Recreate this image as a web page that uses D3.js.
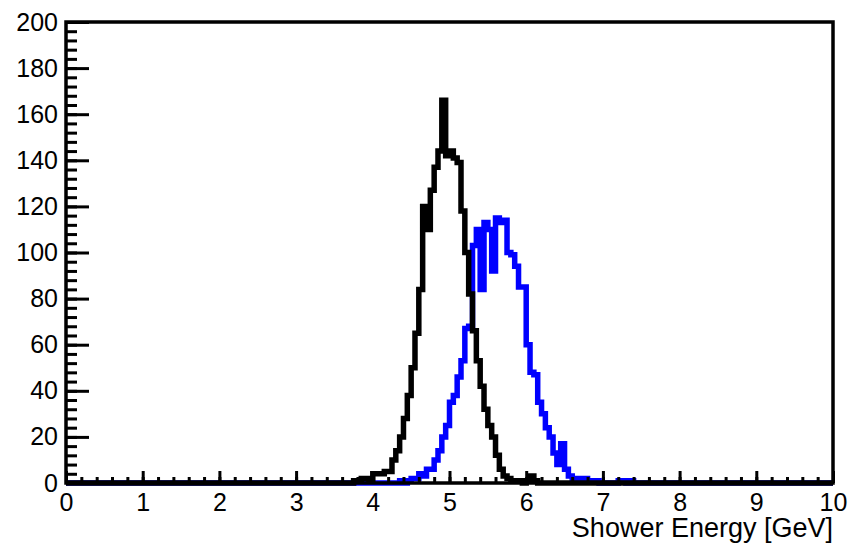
<!DOCTYPE html>
<meta charset="utf-8">
<style>
body{ margin:0; background:#fff; }
text { font-family: "Liberation Sans", Arial, Helvetica, sans-serif; fill:#000; }
</style>
<body>
<script src="https://cdn.jsdelivr.net/npm/d3@7"></script>
<script>

// histogram binning: 200 bins of 0.05 GeV between 0 and 10
var xMin = 0, xMax = 10, binWidth = 0.05;

// black histogram, first non-empty bin starts at 3.75 GeV
var blackStart = 3.75;
var blackCounts = [1,1,2,2,1, 4,4,4,5,5, 10,14,20,28,38, 50,65,84,120,110,
                   127,137,144,166,142, 144,141,139,118,100, 82,66,53,42,32,
                   25,20,12,6,3, 2,1,1,1,0, 1,3,1];

// blue histogram, first non-empty bin starts at 4.35 GeV
var blueStart = 4.35;
var blueCounts = [1,0,1,2,2, 4,3,6,6,10, 14,20,25,35,38, 46,53,67,68,103,
                  110,84,113,110,92, 115,113,114,100,99, 94,85,85,60,48,
                  47,35,30,24,20, 13,8,17,6,3, 2,2,1,2,1,
                  1,1,0,0,0, 0,0,1,1,0, 1];

var xTicks = [0,1,2,3,4,5,6,7,8,9,10];
var yTicks = [0,20,40,60,80,100,120,140,160,180,200];

var width = 851, height = 546;
var padL = 66, padR = 833, padT = 22, padB = 483;

var x = d3.scaleLinear().domain([xMin, xMax]).range([padL, padR]);
var y = d3.scaleLinear().domain([0, 200]).range([padB, padT]);

var svg = d3.select("body").append("svg")
    .attr("width", width)
    .attr("height", height);

// turn a list of counts into the step outline of a histogram
function outline(start, counts) {
  var nBins = Math.round((xMax - xMin) / binWidth);
  var first = Math.round((start - xMin) / binWidth);
  var pts = [];
  for (var i = 0; i < nBins; i++) {
    var k = i - first;
    var v = (k >= 0 && k < counts.length) ? counts[k] : 0;
    var lo = xMin + i * binWidth, hi = lo + binWidth;
    pts.push([lo, v], [hi, v]);
  }
  return pts;
}

var line = d3.line()
    .x(function(d) { return x(d[0]); })
    .y(function(d) { return y(d[1]); });

svg.append("path")
    .attr("d", line(outline(blueStart, blueCounts)))
    .attr("fill", "none")
    .attr("stroke", "#0000ff")
    .attr("stroke-width", 5.5)
    .attr("stroke-linejoin", "miter");

svg.append("path")
    .attr("d", line(outline(blackStart, blackCounts)))
    .attr("fill", "none")
    .attr("stroke", "#000")
    .attr("stroke-width", 5.5)
    .attr("stroke-linejoin", "miter");

// frame
svg.append("rect")
    .attr("x", padL).attr("y", padT)
    .attr("width", padR - padL).attr("height", padB - padT)
    .attr("fill", "none")
    .attr("stroke", "#000")
    .attr("stroke-width", 3.5);

// y axis: major ticks with labels, minor ticks every 4
var yMinor = d3.range(0, 201, 4);
svg.append("g")
    .attr("transform", "translate(" + padL + ",0)")
    .call(d3.axisLeft(y).tickValues(yMinor).tickSize(-11).tickFormat(""))
    .call(function(g) { g.select(".domain").remove(); g.selectAll("line").attr("stroke-width", 3); });
svg.append("g")
    .attr("transform", "translate(" + padL + ",0)")
    .call(d3.axisLeft(y).tickValues(yTicks).tickSize(-23).tickPadding(8).tickFormat(d3.format("d")))
    .call(function(g) {
      g.select(".domain").remove();
      g.selectAll("line").attr("stroke-width", 3);
      g.selectAll("text").style("font-size", "25px").attr("fill", "#000");
    });

// x axis: major ticks every 1, minor every 0.2
var xMinor = d3.range(0, 50.5, 1).map(function(d) { return d / 5; });
svg.append("g")
    .attr("transform", "translate(0," + padB + ")")
    .call(d3.axisBottom(x).tickValues(xMinor).tickSize(-6).tickFormat(""))
    .call(function(g) { g.select(".domain").remove(); g.selectAll("line").attr("stroke-width", 3); });
svg.append("g")
    .attr("transform", "translate(0," + padB + ")")
    .call(d3.axisBottom(x).tickValues(xTicks).tickSize(-12).tickPadding(10).tickFormat(d3.format("d")))
    .call(function(g) {
      g.select(".domain").remove();
      g.selectAll("line").attr("stroke-width", 3);
      g.selectAll("text").style("font-size", "25px").attr("fill", "#000");
    });

svg.append("text")
    .attr("x", padR)
    .attr("y", 537)
    .attr("text-anchor", "end")
    .style("font-size", "27px")
    .text("Shower Energy [GeV]");

</script>
